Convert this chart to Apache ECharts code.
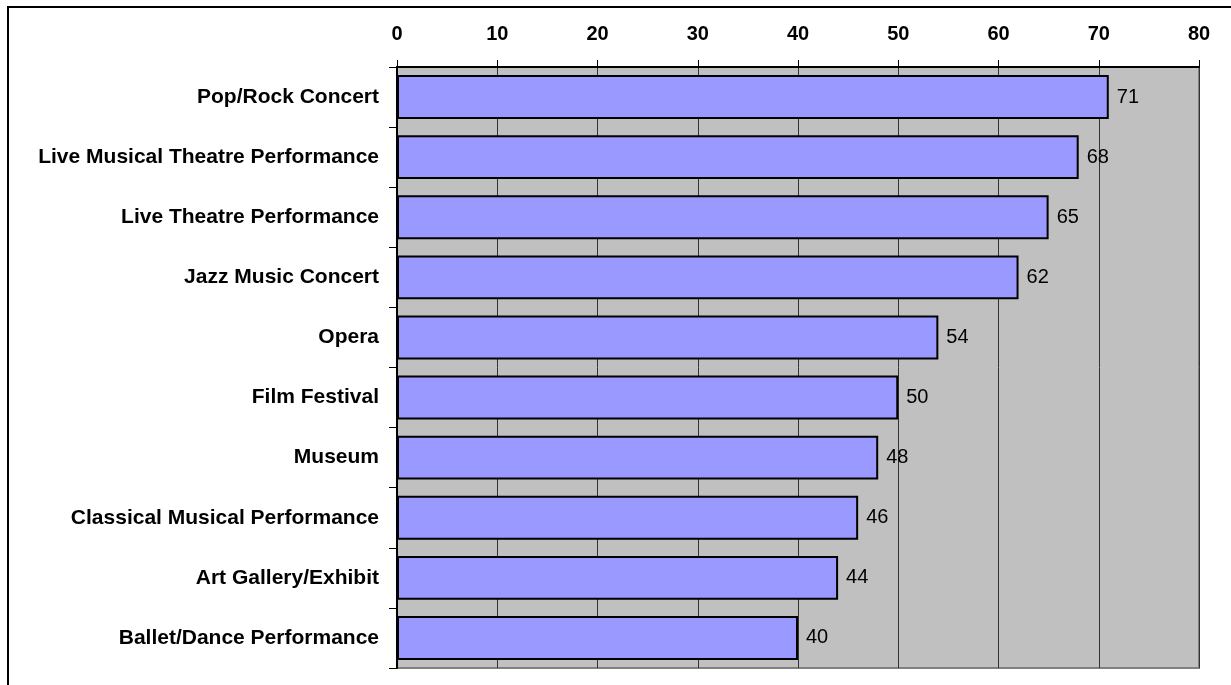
<!DOCTYPE html>
<html>
<head>
<meta charset="utf-8">
<script src="https://cdn.jsdelivr.net/npm/echarts@6/dist/echarts.min.js"></script>
<style>
  html, body { margin: 0; padding: 0; background: #ffffff; }
  #chart { width: 1231px; height: 685px; }
</style>
</head>
<body>
<div id="chart"></div>
<script>
// Event types, top to bottom
const categories = [
  'Pop/Rock Concert',
  'Live Musical Theatre Performance',
  'Live Theatre Performance',
  'Jazz Music Concert',
  'Opera',
  'Film Festival',
  'Museum',
  'Classical Musical Performance',
  'Art Gallery/Exhibit',
  'Ballet/Dance Performance'
];
// Percentage for each event type
const values = [71, 68, 65, 62, 54, 50, 48, 46, 44, 40];
// Value axis ticks
const axisMin = 0;
const axisMax = 80;
const axisStep = 10;

const chart = echarts.init(document.getElementById('chart'), null, { renderer: 'canvas' });

const fontFamily = '"Liberation Sans", Arial, sans-serif';

chart.setOption({
  animation: false,
  backgroundColor: '#ffffff',
  graphic: [{
    type: 'rect',
    shape: { x: 8, y: 7, width: 1300, height: 760 },
    style: { fill: 'none', stroke: '#000000', lineWidth: 2 },
    z: 0
  }],
  grid: {
    left: 397, top: 67, right: 32, bottom: 17,
    show: true,
    backgroundColor: '#C0C0C0',
    borderColor: '#808080',
    borderWidth: 2
  },
  xAxis: {
    type: 'value',
    position: 'top',
    min: axisMin, max: axisMax, interval: axisStep,
    axisLine: { show: true, lineStyle: { color: '#000000', width: 2 } },
    axisTick: { show: true, length: 7, lineStyle: { color: '#000000', width: 1 } },
    axisLabel: {
      margin: 23,
      color: '#000000',
      fontFamily: fontFamily,
      fontWeight: 'bold',
      fontSize: 20
    },
    splitLine: { show: true, lineStyle: { color: '#333333', width: 1 } }
  },
  yAxis: {
    type: 'category',
    data: categories,
    inverse: true,
    axisLine: { show: true, lineStyle: { color: '#000000', width: 2 } },
    axisTick: { show: true, length: 8, alignWithLabel: false, lineStyle: { color: '#000000', width: 1 } },
    axisLabel: {
      margin: 18,
      color: '#000000',
      fontFamily: fontFamily,
      fontWeight: 'bold',
      fontSize: 21
    },
    splitLine: { show: false }
  },
  series: [{
    type: 'bar',
    data: values,
    barCategoryGap: '27%',
    itemStyle: { color: '#9999FF', borderColor: '#000000', borderWidth: 2 },
    label: {
      show: true,
      position: 'right',
      distance: 8,
      color: '#000000',
      fontFamily: fontFamily,
      fontSize: 20
    }
  }]
});
</script>
</body>
</html>
